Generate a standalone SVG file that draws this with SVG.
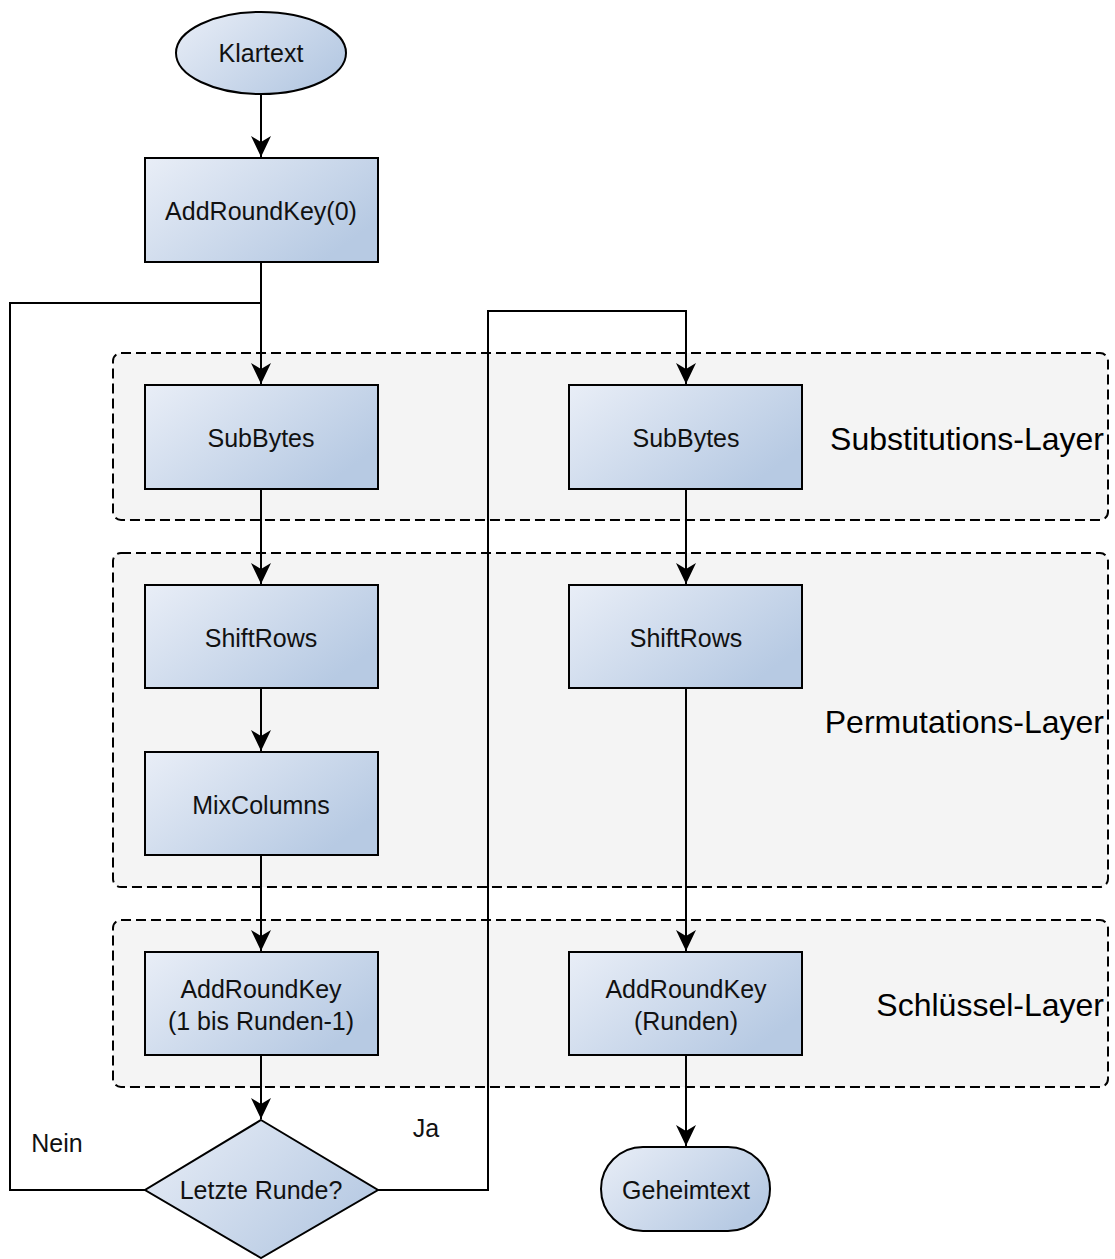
<svg xmlns="http://www.w3.org/2000/svg" width="1115" height="1259" viewBox="0 0 1115 1259">
<style>
.layer{fill:#f4f4f4;stroke:#000;stroke-width:2;stroke-dasharray:10,5}
.node{fill:url(#g);stroke:#000;stroke-width:2}
.t{font-family:"Liberation Sans",Arial,sans-serif;font-size:25px;fill:#111;text-anchor:middle;dominant-baseline:central}
.lt{font-family:"Liberation Sans",Arial,sans-serif;font-size:32px;fill:#000;text-anchor:end;dominant-baseline:central}
.e{fill:none;stroke:#000;stroke-width:2;marker-end:url(#a)}
.l{fill:none;stroke:#000;stroke-width:2}
</style>
<defs>
<linearGradient id="g" x1="0" y1="0" x2="1" y2="0.6">
<stop offset="0" stop-color="#e9eef7"/>
<stop offset="1" stop-color="#b7cae3"/>
</linearGradient>
<marker id="a" markerWidth="24" markerHeight="22" refX="21" refY="10" orient="auto" markerUnits="userSpaceOnUse">
<path d="M0,0 L21,10 L0,20 L6,10 Z" fill="#000"/>
</marker>
</defs>
<rect width="1115" height="1259" fill="#fff"/>
<g id="layers">
<g id="layer-sub"><rect class="layer" x="113" y="353" width="995" height="167" rx="8"/><text class="lt" x="1104" y="439">Substitutions-Layer</text></g>
<g id="layer-perm"><rect class="layer" x="113" y="553" width="995" height="334" rx="8"/><text class="lt" x="1104" y="722">Permutations-Layer</text></g>
<g id="layer-key"><rect class="layer" x="113" y="920" width="995" height="167" rx="8"/><text class="lt" x="1104" y="1005">Schlüssel-Layer</text></g>
</g>
<g id="connectors">
<path class="e" d="M261,95 V157"/>
<path class="e" d="M261,263 V384"/>
<path class="l" d="M145,1190 H10 V303 H261"/>
<path class="e" d="M261,490 V584"/>
<path class="e" d="M261,689 V751"/>
<path class="e" d="M261,856 V951"/>
<path class="e" d="M261,1056 V1119"/>
<path class="e" d="M378,1190 H488 V311 H686 V384"/>
<path class="e" d="M686,490 V584"/>
<path class="e" d="M686,689 V951"/>
<path class="e" d="M686,1056 V1146"/>
<text class="t" x="57" y="1143">Nein</text>
<text class="t" x="426" y="1128">Ja</text>
</g>
<g id="klartext"><ellipse class="node" cx="261" cy="53" rx="85" ry="41"/><text class="t" x="261" y="53">Klartext</text></g>
<g id="ark0"><rect class="node" x="145" y="158" width="233" height="104"/><text class="t" x="261" y="211">AddRoundKey(0)</text></g>
<g id="sub1"><rect class="node" x="145" y="385" width="233" height="104"/><text class="t" x="261" y="438">SubBytes</text></g>
<g id="shift1"><rect class="node" x="145" y="585" width="233" height="103"/><text class="t" x="261" y="638">ShiftRows</text></g>
<g id="mix1"><rect class="node" x="145" y="752" width="233" height="103"/><text class="t" x="261" y="805">MixColumns</text></g>
<g id="ark1"><rect class="node" x="145" y="952" width="233" height="103"/><text class="t" x="261" y="989">AddRoundKey</text><text class="t" x="261" y="1021">(1 bis Runden-1)</text></g>
<g id="decision"><polygon class="node" points="261,1120 378,1190 261,1258 145,1190"/><text class="t" x="261" y="1190">Letzte Runde?</text></g>
<g id="sub2"><rect class="node" x="569" y="385" width="233" height="104"/><text class="t" x="686" y="438">SubBytes</text></g>
<g id="shift2"><rect class="node" x="569" y="585" width="233" height="103"/><text class="t" x="686" y="638">ShiftRows</text></g>
<g id="ark2"><rect class="node" x="569" y="952" width="233" height="103"/><text class="t" x="686" y="989">AddRoundKey</text><text class="t" x="686" y="1021">(Runden)</text></g>
<g id="geheimtext"><rect class="node" x="601" y="1147" width="169" height="84" rx="42"/><text class="t" x="686" y="1190">Geheimtext</text></g>
</svg>
